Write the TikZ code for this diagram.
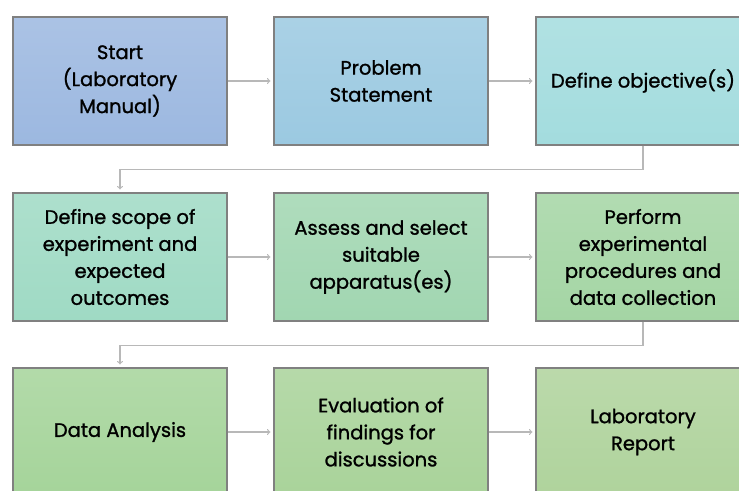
\documentclass[tikz,border=0pt]{standalone}
\usepackage{fontspec}
\setmainfont{Poppins}
\newfontfamily\boxfont{Poppins}[FakeBold=1.2]

\definecolor{cstart}{HTML}{9CB8E0}
\definecolor{cproblem}{HTML}{9BC9E1}
\definecolor{cobjective}{HTML}{A3DCDE}
\definecolor{cscope}{HTML}{9FDAC4}
\definecolor{capparatus}{HTML}{A1D6B1}
\definecolor{cprocedure}{HTML}{A4D5A4}
\definecolor{canalysis}{HTML}{A5D49A}
\definecolor{cevaluation}{HTML}{A9D39A}
\definecolor{creport}{HTML}{AFD39C}

\begin{document}
\begin{tikzpicture}[x=1pt,y=-1pt,
    box/.style={draw=black!50, line width=1.2pt, minimum width=214pt, minimum height=128pt,
        inner sep=0pt, align=center, font=\boxfont\fontsize{19.5}{27}\selectfont},
    link/.style={->, >=to, draw=black!28, line width=1.2pt, shorten >=3pt}]
        \clip (0,0) rectangle (739,490);
        \fill[white] (0,0) rectangle (739,490);

        % first row
        \node[box, top color=cstart!85!white, bottom color=cstart] (start) at (120,81) {Start\\(Laboratory\\Manual)};
        \node[box, top color=cproblem!85!white, bottom color=cproblem] (problem) at (381,81) {Problem\\Statement};
        \node[box, top color=cobjective!85!white, bottom color=cobjective] (objective) at (643,81) {Define objective(s)};

        % second row
        \node[box, top color=cscope!85!white, bottom color=cscope] (scope) at (120,257) {Define scope of\\experiment and\\expected\\outcomes};
        \node[box, top color=capparatus!85!white, bottom color=capparatus] (apparatus) at (381,257) {Assess and select\\suitable\\apparatus(es)};
        \node[box, top color=cprocedure!85!white, bottom color=cprocedure] (procedure) at (643,257) {Perform\\experimental\\procedures and\\data collection};

        % third row
        \node[box, top color=canalysis!85!white, bottom color=canalysis] (analysis) at (120,432) {Data Analysis};
        \node[box, top color=cevaluation!85!white, bottom color=cevaluation] (evaluation) at (381,432) {Evaluation of\\findings for\\discussions};
        \node[box, top color=creport!85!white, bottom color=creport] (report) at (643,432) {Laboratory\\Report};

        \draw[link] (start) -- (problem);
        \draw[link] (problem) -- (objective);
        \draw[link] (objective.south) -- ++(0,24) -| (scope.north);
        \draw[link] (scope) -- (apparatus);
        \draw[link] (apparatus) -- (procedure);
        \draw[link] (procedure.south) -- ++(0,24) -| (analysis.north);
        \draw[link] (analysis) -- (evaluation);
        \draw[link] (evaluation) -- (report);
    \end{tikzpicture}
\end{document}
